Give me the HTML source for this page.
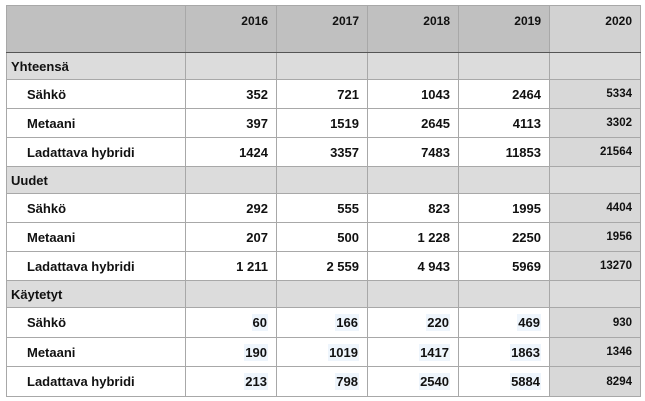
<!DOCTYPE html>
<html><head><meta charset="utf-8"><style>
body{margin:0;width:645px;height:401px;background:#fff;font-family:"Liberation Sans",Arial,sans-serif;}
table{position:absolute;left:6px;top:5px;border-collapse:collapse;table-layout:fixed;}
td{border:1px solid #a8a8a8;padding:0 8px;font-size:13px;font-weight:bold;color:#111;text-align:right;height:28px;box-sizing:border-box;}
tr.hd td{background:#c0c0c0;height:47px;vertical-align:top;padding-top:8px;font-size:12px;border-bottom:1.5px solid #555;}
tr.sec td{background:#dcdcdc;height:27px;}
td.lab{text-align:left;padding-left:20px;}
tr.sec td.lab{padding-left:4px;}
td.last{background:#d8d8d8;font-size:11.5px;}
tr.hd td.last{background:#d2d2d2;}
span.h{background:#eef5fc;padding:1px 1px;}
</style></head><body>
<table>
<colgroup><col style="width:179px"><col style="width:91px"><col style="width:91px"><col style="width:91px"><col style="width:91px"><col style="width:91px"></colgroup>
<tr class="hd"><td></td><td>2016</td><td>2017</td><td>2018</td><td>2019</td><td class="last">2020</td></tr>
<tr class="sec"><td class="lab">Yhteensä</td><td></td><td></td><td></td><td></td><td class="last"></td></tr>
<tr style="height:29px"><td class="lab">Sähkö</td><td>352</td><td>721</td><td>1043</td><td>2464</td><td class="last">5334</td></tr>
<tr style="height:29px"><td class="lab">Metaani</td><td>397</td><td>1519</td><td>2645</td><td>4113</td><td class="last">3302</td></tr>
<tr style="height:29px"><td class="lab">Ladattava hybridi</td><td>1424</td><td>3357</td><td>7483</td><td>11853</td><td class="last">21564</td></tr>
<tr class="sec"><td class="lab">Uudet</td><td></td><td></td><td></td><td></td><td class="last"></td></tr>
<tr style="height:29px"><td class="lab">Sähkö</td><td>292</td><td>555</td><td>823</td><td>1995</td><td class="last">4404</td></tr>
<tr style="height:29px"><td class="lab">Metaani</td><td>207</td><td>500</td><td>1 228</td><td>2250</td><td class="last">1956</td></tr>
<tr style="height:29px"><td class="lab">Ladattava hybridi</td><td>1 211</td><td>2 559</td><td>4 943</td><td>5969</td><td class="last">13270</td></tr>
<tr class="sec"><td class="lab">Käytetyt</td><td></td><td></td><td></td><td></td><td class="last"></td></tr>
<tr style="height:30px"><td class="lab">Sähkö</td><td><span class="h">60</span></td><td><span class="h">166</span></td><td><span class="h">220</span></td><td><span class="h">469</span></td><td class="last">930</td></tr>
<tr style="height:29px"><td class="lab">Metaani</td><td><span class="h">190</span></td><td><span class="h">1019</span></td><td><span class="h">1417</span></td><td><span class="h">1863</span></td><td class="last">1346</td></tr>
<tr style="height:30px"><td class="lab">Ladattava hybridi</td><td><span class="h">213</span></td><td><span class="h">798</span></td><td><span class="h">2540</span></td><td><span class="h">5884</span></td><td class="last">8294</td></tr>
</table>
</body></html>
